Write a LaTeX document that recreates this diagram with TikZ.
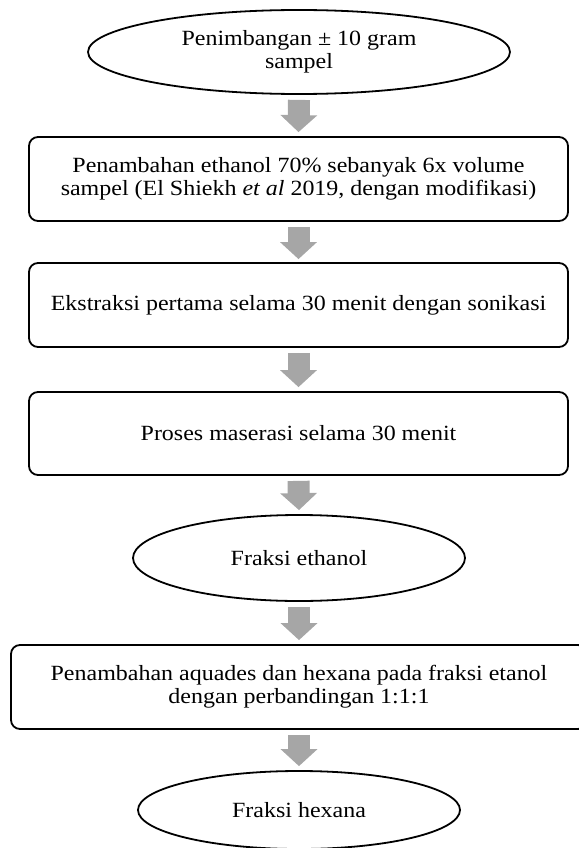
\documentclass[tikz,border=0pt]{standalone}
\usepackage{fontspec}
\setmainfont{Liberation Serif}[FakeStretch=1.105]
\usetikzlibrary{arrows.meta,shapes.geometric}
\definecolor{arrowgray}{HTML}{A6A6A6}
\begin{document}
\begin{tikzpicture}[x=1pt,y=-1pt,
  every node/.style={font=\fontsize{21.7}{23}\selectfont, align=center, inner sep=0pt},
  ovalbox/.style={ellipse, draw, line width=1.8pt},
  roundbox/.style={rectangle, rounded corners=9pt, draw, line width=1.8pt},
  flowarrow/.style={draw=arrowgray, fill=arrowgray, line width=22pt, -{Triangle[width=36pt,length=17pt]}}]
\useasboundingbox (0,0) rectangle (578,848);
\node[ovalbox, minimum width=422pt, minimum height=84pt] (e1) at (299,52) {Penimbangan ± 10 gram\\sampel};
\node[roundbox, minimum width=539pt, minimum height=84pt] (b2) at (298.5,179) {Penambahan ethanol 70\% sebanyak 6x volume\\sampel (El Shiekh \textit{et al} 2019, dengan modifikasi)};
\node[roundbox, minimum width=539pt, minimum height=84pt] (b3) at (298.5,305) {Ekstraksi pertama selama 30 menit dengan sonikasi};
\node[roundbox, minimum width=539pt, minimum height=83pt] (b4) at (298.5,433.5) {Proses maserasi selama 30 menit};
\node[ovalbox, minimum width=332pt, minimum height=86pt] (e5) at (299,558) {Fraksi ethanol};
\node[roundbox, minimum width=576pt, minimum height=84pt] (b6) at (299,687) {Penambahan aquades dan hexana pada fraksi etanol\\dengan perbandingan 1:1:1};
\node[ovalbox, minimum width=322pt, minimum height=78pt] (e7) at (299,810) {Fraksi hexana};
\draw[flowarrow] ([yshift=-5pt]e1.south) -- ([yshift=4pt]b2.north);
\draw[flowarrow] ([yshift=-5pt]b2.south) -- ([yshift=3pt]b3.north);
\draw[flowarrow] ([yshift=-5pt]b3.south) -- ([yshift=4pt]b4.north);
\draw[flowarrow] ([yshift=-5pt]b4.south) -- ([yshift=4pt]e5.north);
\draw[flowarrow] ([yshift=-5pt]e5.south) -- ([yshift=4pt]b6.north);
\draw[flowarrow] ([yshift=-5pt]b6.south) -- ([yshift=4pt]e7.north);
\end{tikzpicture}
\end{document}
